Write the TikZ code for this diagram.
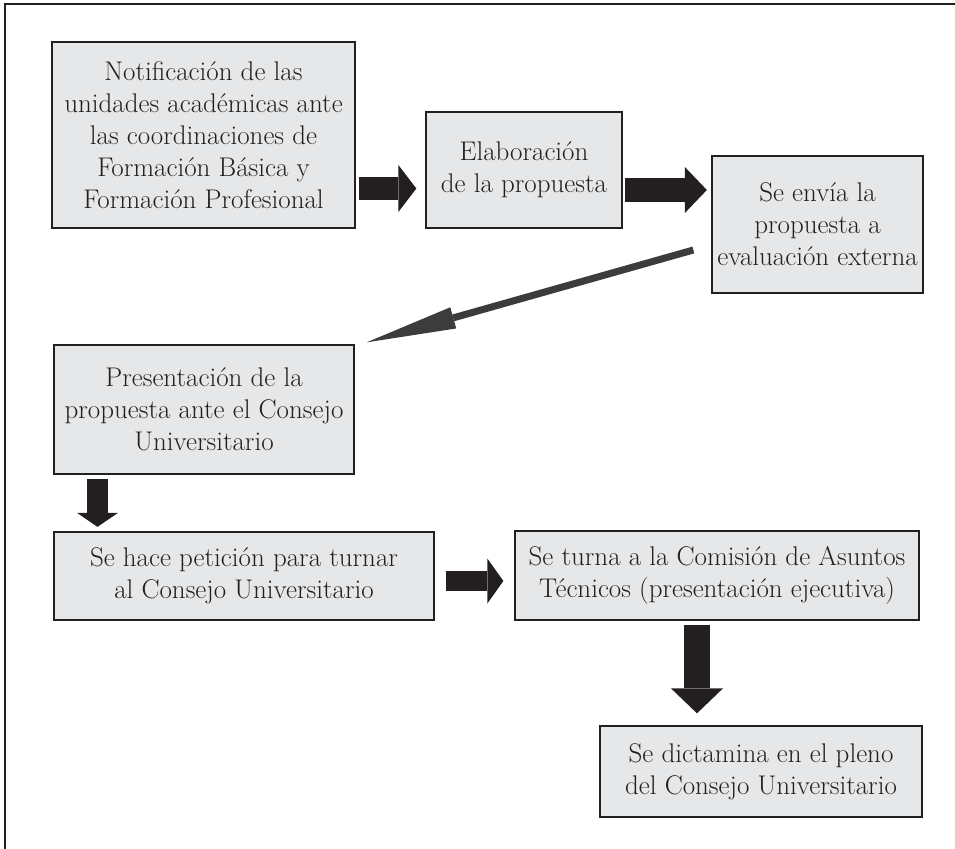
\documentclass[tikz,border=0pt]{standalone}
\usetikzlibrary{arrows.meta}
\definecolor{boxgray}{HTML}{E6E7E8}
\definecolor{inkgray}{HTML}{231F20}
\definecolor{linegray}{HTML}{3C3C3C}
\begin{document}
\begin{tikzpicture}[x=1pt, y=-1pt,
    main/.style = {draw=inkgray, line width=1.3pt, fill=boxgray, text=inkgray, align=center, inner sep=0pt, font=\fontsize{27}{32}\selectfont},
    bigarrow/.style n args = {3}{draw=inkgray, line width=#1, -{Triangle[width=#2, length=#3, line width=0pt]}},
    slimarrow/.style = {draw=linegray, line width=7pt, -{Triangle[width=22pt, length=90pt, line width=0pt]}}]
    \useasboundingbox (0,0) rectangle (955,848);
    \draw[inkgray, line width=1.3pt] (5,852) -- (5,4) -- (959,4);

    \node[main, minimum width=303pt, minimum height=186pt] (1) at (203.5,135)   {Notificación de las\\ unidades académicas ante\\ las coordinaciones de\\ Formación Básica y\\ Formación Profesional};
    \node[main, minimum width=196pt, minimum height=116pt] (2) at (524,170)     {Elaboración\\ de la propuesta};
    \node[main, minimum width=211pt, minimum height=137pt] (3) at (817.5,224.5) {Se envía la\\ propuesta a\\ evaluación externa};
    \node[main, minimum width=300pt, minimum height=129pt] (4) at (204,409.5)   {Presentación de la\\ propuesta ante el Consejo\\ Universitario};
    \node[main, minimum width=380pt, minimum height=88pt]  (5) at (244,576)     {Se hace petición para turnar\\ al Consejo Universitario};
    \node[main, minimum width=404pt, minimum height=89pt]  (6) at (717,575.5)   {Se turna a la Comisión de Asuntos\\ Técnicos (presentación ejecutiva)};
    \node[main, minimum width=322pt, minimum height=91pt]  (7) at (761,771.5)   {Se dictamina en el pleno\\ del Consejo Universitario};

    \draw[bigarrow={23pt}{47pt}{18pt}] ([xshift=3pt,yshift=-53.5pt]1.east) -- ([xshift=-9pt,yshift=-18.5pt]2.west);
    \draw[bigarrow={24pt}{46pt}{22pt}] ([xshift=2pt,yshift=-20pt]2.east) -- ([xshift=-4.5pt,yshift=34.5pt]3.west);
    \draw[slimarrow] ([xshift=-18pt,yshift=-25.5pt]3.west) -- ([xshift=12pt,yshift=2pt]4.north east);
    \draw[bigarrow={21pt}{41pt}{14pt}] ([xshift=-106.5pt,yshift=-4pt]4.south) -- ([xshift=-146.5pt,yshift=4.5pt]5.north);
    \draw[bigarrow={20pt}{45pt}{16pt}] ([xshift=11pt,yshift=-5pt]5.east) -- ([xshift=-11pt,yshift=-5.5pt]6.west);
    \draw[bigarrow={26pt}{52pt}{25pt}] ([xshift=-20pt,yshift=-4pt]6.south) -- ([xshift=-64pt,yshift=12pt]7.north);
\end{tikzpicture}
\end{document}
